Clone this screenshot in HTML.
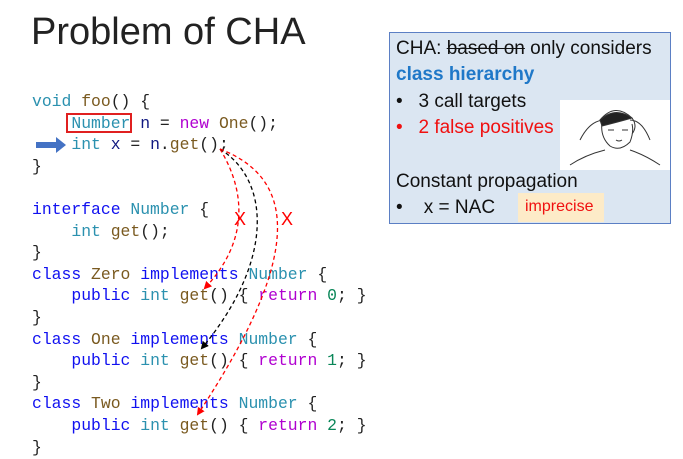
<!DOCTYPE html>
<html><head><meta charset="utf-8"><style>
body{margin:0;width:683px;height:459px;background:#fff;position:relative;overflow:hidden;font-family:"Liberation Sans",sans-serif}
.t{position:absolute;left:31px;top:11px;font-size:38px;color:#222}
pre{position:absolute;left:32px;top:91px;margin:0;font-family:"Liberation Mono",monospace;font-size:16.4px;line-height:21.6px;color:#222}
.k{color:#1010f0}.ty{color:#2b91af}.f{color:#7a5a20}.m{color:#b000d0}.v{color:#101880}.n{color:#098658}
.box{position:absolute;left:389px;top:32px;width:282px;height:192px;background:#dbe6f2;border:1.5px solid #5b7fc4;box-sizing:border-box;font-size:19px;color:#111}
.box div{position:absolute;white-space:nowrap}
</style></head><body>
<div class="t">Problem of CHA</div>
<pre><span class="ty">void</span> <span class="f">foo</span>() {
    <span class="ty">Number</span> <span class="v">n</span> = <span class="m">new</span> <span class="f">One</span>();
    <span class="ty">int</span> <span class="v">x</span> = <span class="v">n</span>.<span class="f">get</span>();
}

<span class="k">interface</span> <span class="ty">Number</span> {
    <span class="ty">int</span> <span class="f">get</span>();
}
<span class="k">class</span> <span class="f">Zero</span> <span class="k">implements</span> <span class="ty">Number</span> {
    <span class="k">public</span> <span class="ty">int</span> <span class="f">get</span>() { <span class="m">return</span> <span class="n">0</span>; }
}
<span class="k">class</span> <span class="f">One</span> <span class="k">implements</span> <span class="ty">Number</span> {
    <span class="k">public</span> <span class="ty">int</span> <span class="f">get</span>() { <span class="m">return</span> <span class="n">1</span>; }
}
<span class="k">class</span> <span class="f">Two</span> <span class="k">implements</span> <span class="ty">Number</span> {
    <span class="k">public</span> <span class="ty">int</span> <span class="f">get</span>() { <span class="m">return</span> <span class="n">2</span>; }
}</pre>
<div style="position:absolute;left:66px;top:113px;width:66px;height:20px;border:2px solid #e02020;box-sizing:border-box"></div>
<svg width="683" height="459" style="position:absolute;left:0;top:0">
<defs>
<marker id="r" markerWidth="8" markerHeight="8" refX="6" refY="4" orient="auto" markerUnits="userSpaceOnUse" viewBox="0 0 8 8"><path d="M0,0L8,4L0,8z" fill="#f00"/></marker>
<marker id="b" markerWidth="8" markerHeight="8" refX="6" refY="4" orient="auto" markerUnits="userSpaceOnUse" viewBox="0 0 8 8"><path d="M0,0L8,4L0,8z" fill="#000"/></marker>
</defs>
<path d="M36,142h20v-5l10,8l-10,8v-5h-20z" fill="#4472c4"/>
<g fill="none" stroke-width="1.3" stroke-dasharray="4,3">
<path d="M220,149 C245,190 250,240 205,288" stroke="#f00" marker-end="url(#r)"/>
<path d="M220,149 C270,180 275,260 202,348" stroke="#000" marker-end="url(#b)"/>
<path d="M220,149 C300,180 300,260 198,414" stroke="#f00" marker-end="url(#r)"/>
</g>
<text x="240" y="225" font-family="Liberation Sans" font-size="18" fill="#f00" text-anchor="middle">X</text>
<text x="287" y="225" font-family="Liberation Sans" font-size="18" fill="#f00" text-anchor="middle">X</text>
</svg>
<div class="box">
<div style="left:6px;top:5px">CHA: <s>based on</s> only considers</div>
<div style="left:6px;top:31px;color:#1f78c8;font-weight:bold">class hierarchy</div>
<div style="left:6px;top:58px">•&nbsp;&nbsp; 3 call targets</div>
<div style="left:6px;top:84px;color:#f01010">•&nbsp;&nbsp; 2 false positives</div>
<svg style="position:absolute;left:170px;top:67px" width="110" height="70"><rect width="110" height="70" fill="#fff"/><g fill="none" stroke="#333" stroke-width="1"><path d="M40,20 q15,-18 32,-2 q6,8 0,16 M42,22 q-2,15 8,24 q10,6 20,-4 q4,-10 2,-18 M48,30 h6 M62,30 h6 M56,40 q3,2 6,0 M20,40 q10,-20 25,-20 M90,40 q-8,-20 -20,-20 M10,65 q15,-10 35,-15 M100,65 q-15,-10 -30,-15"/><path d="M40,20 q15,-14 32,-2 q-14,4 -30,8z" fill="#222"/></g></svg>
<div style="left:6px;top:138px">Constant propagation</div>
<div style="left:6px;top:164px">•&nbsp;&nbsp;&nbsp; x = NAC</div>
<div style="left:128px;top:160px;width:86px;height:29px;background:#fdebc8"></div>
<div style="left:135px;top:165px;color:#f01010;font-size:16px">imprecise</div>
</div>
</body></html>
